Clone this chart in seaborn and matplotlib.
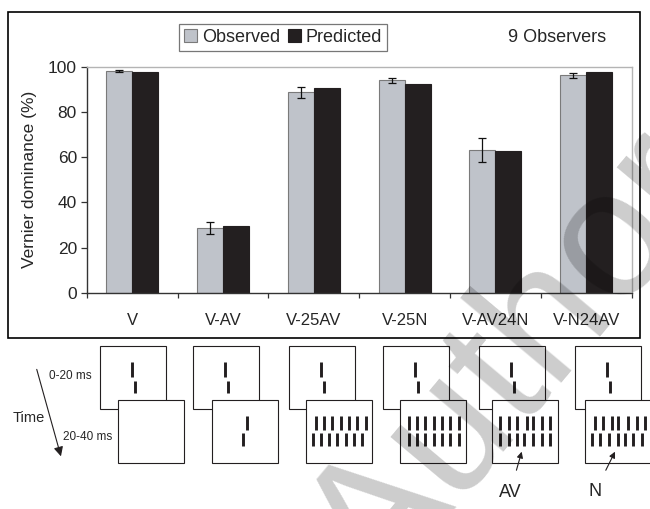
import numpy as np
import pandas as pd
import matplotlib
matplotlib.use('Agg')
import matplotlib.pyplot as plt
from matplotlib.patches import Rectangle
import seaborn as sns

# values
conditions = ['V', 'V-AV', 'V-25AV', 'V-25N', 'V-AV24N', 'V-N24AV']
observed = [98.1, 28.5, 88.6, 94.0, 63.3, 96.2]
observed_err = [0.5, 2.6, 2.6, 1.2, 5.3, 1.2]
predicted = [97.8, 29.3, 90.6, 92.5, 62.6, 97.8]
series = ['Observed', 'Predicted']
n_observers = 9

# what the second (20-40 ms) frame shows for each condition
mask_kind = ['blank', 'AV', 'AV_grid', 'N_grid', 'AV24N', 'N24AV']

df = pd.DataFrame({
    'condition': conditions * 2,
    'kind': [series[0]] * len(conditions) + [series[1]] * len(conditions),
    'value': observed + predicted,
})

sns.set_style('ticks')
plt.rcParams['font.family'] = ['Liberation Sans', 'DejaVu Sans']

W, H = 650, 509
fig = plt.figure(figsize=(6.5, 5.09), dpi=100)

def fx(px):
    return px / W

def fy(py):
    return 1 - py / H

ax = fig.add_axes([fx(86.7), fy(292.7), fx(631.7) - fx(86.7), fy(66.7) - fy(292.7)])
sns.barplot(data=df, x='condition', y='value', hue='kind', ax=ax,
            palette={'Observed': '#bfc3ca', 'Predicted': '#231f20'},
            width=0.572, gap=0, errorbar=None, saturation=1, linewidth=0.8)
for p in ax.containers[0]:
    p.set_edgecolor('#7a7a7a')
for p in ax.containers[1]:
    p.set_edgecolor('#231f20')

xs = [p.get_x() + p.get_width() / 2 for p in ax.containers[0]]
ax.errorbar(xs, observed, yerr=observed_err, fmt='none', ecolor='#111111',
            elinewidth=0.9, capsize=3, capthick=0.9, zorder=5)

ax.get_legend().remove()
ax.set_xlim(-0.5, len(conditions) - 0.5)
ax.set_ylim(0, 100)
ax.set_yticks(range(0, 101, 20))
ax.set_xlabel('')
ax.set_ylabel('Vernier dominance (%)', fontsize=12.5)
ax.yaxis.label.set_va('center')
ax.yaxis.set_label_coords((30 - 86.7) / 545, 0.5)
ax.tick_params(axis='y', length=4.5, width=0.9, direction='out', labelsize=12.5,
               pad=2.5, color='#333333')
ax.tick_params(axis='x', which='major', length=0, labelsize=12, pad=14.5)
ax.set_xticks(np.arange(-0.5, len(conditions), 1), minor=True)
ax.tick_params(axis='x', which='minor', length=3.5, width=0.9, direction='out',
               color='#333333')
for side in ['left', 'bottom']:
    ax.spines[side].set_color('#333333')
    ax.spines[side].set_linewidth(1.0)
for side in ['top', 'right']:
    ax.spines[side].set_visible(True)
    ax.spines[side].set_color('#b4b4b4')
    ax.spines[side].set_linewidth(1.0)

# outer frame around the chart
fig.patches.append(Rectangle((fx(8), fy(338)), fx(640) - fx(8), fy(12) - fy(338),
                             transform=fig.transFigure, fill=False, ec='black', lw=1.2))

leg = fig.legend([ax.containers[0][0], ax.containers[1][0]], series,
                 loc='center', bbox_to_anchor=(fx(283), fy(37.5)), ncol=2,
                 frameon=True, fancybox=False, edgecolor='#555555',
                 handlelength=0.75, handleheight=0.75, handletextpad=0.25,
                 columnspacing=0.45, borderpad=0.25, fontsize=13)
leg.get_frame().set_linewidth(0.9)

fig.text(fx(557), fy(38), f'{n_observers} Observers', ha='center', va='center', fontsize=13)

# stimulus sketch below the chart
dax = fig.add_axes([0, 0, 1, 1])
dax.set_xlim(0, W)
dax.set_ylim(H, 0)
dax.axis('off')

back_left = [100, 193.3, 289, 383.3, 479.3, 575]
front_shift = [18.3, 19, 16.7, 17, 12.4, 10]
box_w, box_h = 66, 63
back_top, front_top = 346, 400
ink = '#231f20'

def seg(x, y0, y1):
    dax.plot([x, x], [y0, y1], color=ink, lw=2.1, solid_capstyle='butt', zorder=4)

for bl, sh, kind in zip(back_left, front_shift, mask_kind):
    dax.add_patch(Rectangle((bl, back_top), box_w, box_h, fc='white', ec=ink, lw=0.8, zorder=1))
    dax.plot([bl + 31.7] * 2, [361.7, 376.7], color=ink, lw=2.1, solid_capstyle='butt', zorder=2)
    dax.plot([bl + 35] * 2, [380.7, 392.7], color=ink, lw=2.1, solid_capstyle='butt', zorder=2)
    fl = bl + sh
    dax.add_patch(Rectangle((fl, front_top), box_w, box_h, fc='white', ec=ink, lw=0.8, zorder=3))
    if kind == 'AV':
        seg(fl + 34.4, 416, 429.5)
        seg(fl + 30.4, 433, 446)
    elif kind != 'blank':
        for k in range(7):
            cx = fl + 8.5 + 8.3 * k
            is_av = (kind == 'AV_grid' or (kind == 'AV24N' and k == 3)
                     or (kind == 'N24AV' and k != 3))
            d = 1.6 if is_av else 0
            seg(cx + d, 416, 430)
            seg(cx - d, 433, 446)

dax.text(49, 376, '0-20 ms', fontsize=8.5, ha='left', va='center')
dax.text(63, 436.7, '20-40 ms', fontsize=8.5, ha='left', va='center')
dax.text(13, 418, 'Time', fontsize=10.5, ha='left', va='center')
dax.annotate('', xy=(61.7, 459), xytext=(36, 366.7),
             arrowprops=dict(arrowstyle='-|>', color=ink, lw=0.8, mutation_scale=14))
dax.annotate('AV', xy=(521.7, 451.7), xytext=(510, 492.7), fontsize=13, ha='center', va='center',
             arrowprops=dict(arrowstyle='-|>', color=ink, lw=0.8, mutation_scale=9, shrinkA=8, shrinkB=0))
dax.annotate('N', xy=(615, 451.7), xytext=(595, 492), fontsize=13, ha='center', va='center',
             arrowprops=dict(arrowstyle='-|>', color=ink, lw=0.8, mutation_scale=9, shrinkA=8, shrinkB=0))

# watermark (translucent black so dark marks stay dark)
fig.text(fx(515), fy(365), 'Author', fontsize=130, color='black', alpha=0.2, rotation=50,
         ha='center', va='center', rotation_mode='anchor', zorder=10)

fig.savefig('out.png', dpi=100)
